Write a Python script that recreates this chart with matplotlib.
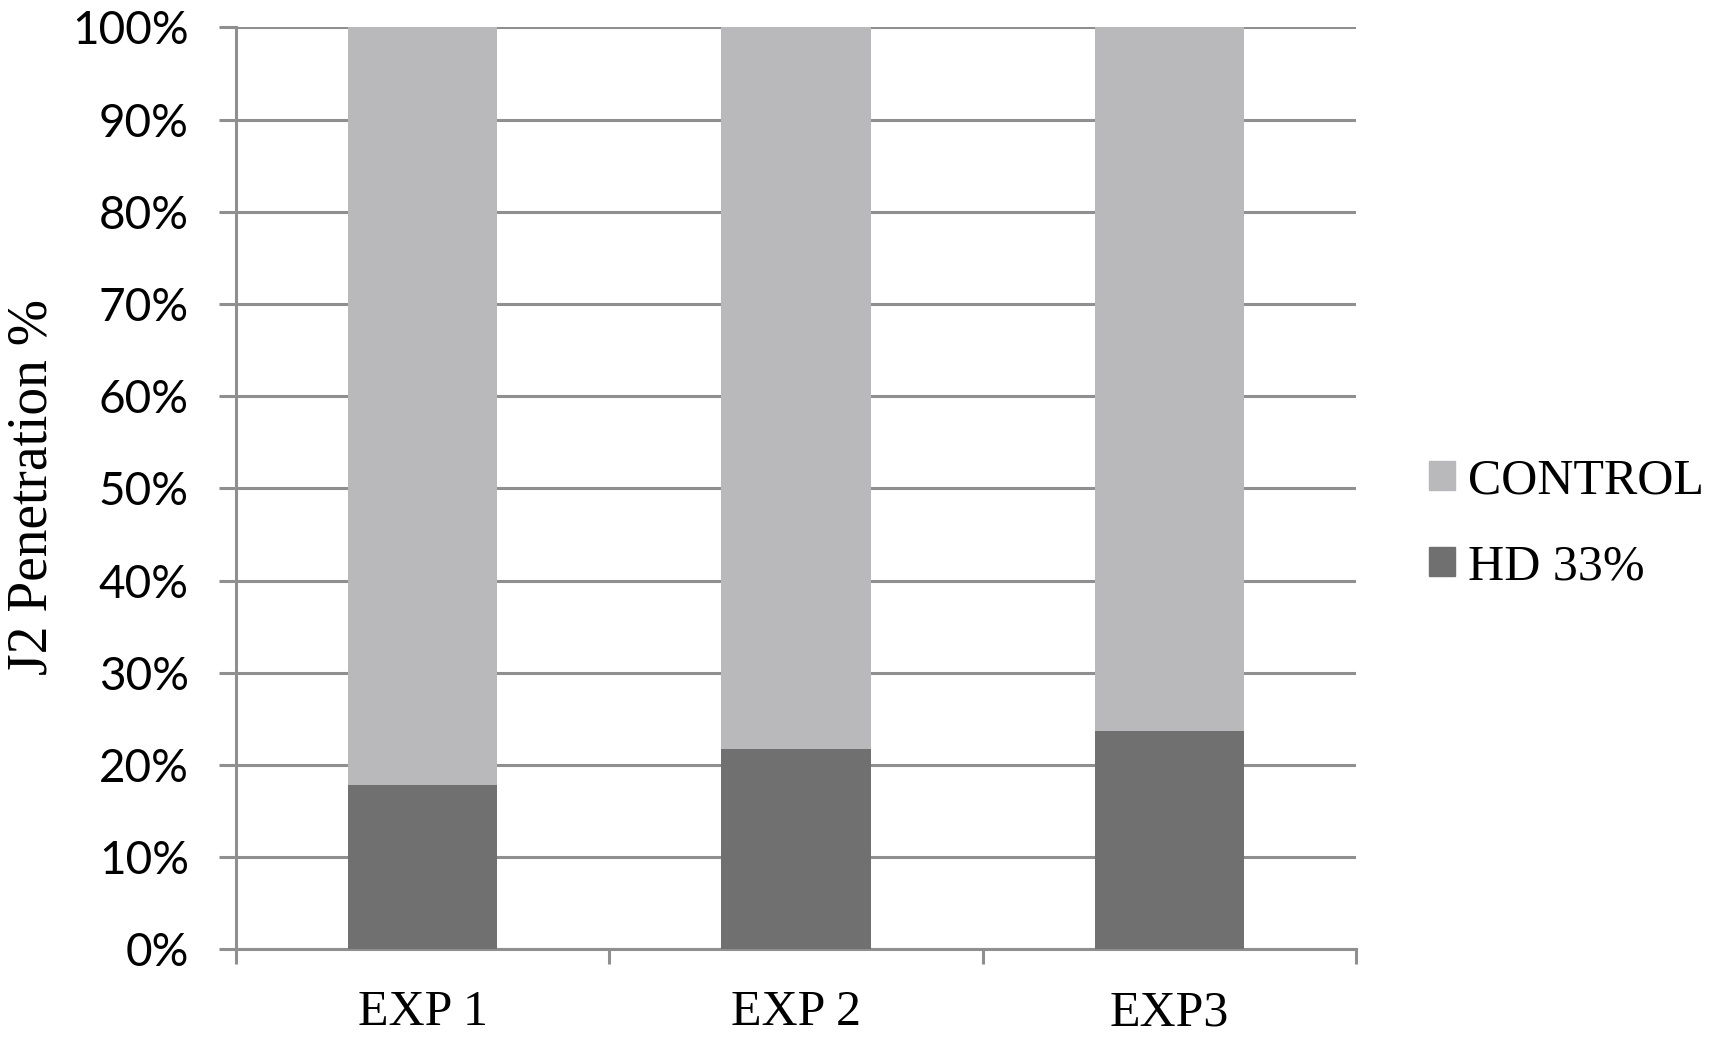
import matplotlib
matplotlib.use("Agg")
import matplotlib.pyplot as plt
from matplotlib.patches import Patch
from matplotlib.ticker import FixedLocator, PercentFormatter

categories = ["EXP 1", "EXP 2", "EXP3"]
hd33 = [17.8, 21.7, 23.7]
control = [82.2, 78.3, 76.3]
yticks = [0, 10, 20, 30, 40, 50, 60, 70, 80, 90, 100]

c_control = "#b9b9bb"
c_hd = "#707070"
c_grid = "#8f8f8f"

fig = plt.figure(figsize=(17.13, 10.42), dpi=100)
ax = fig.add_axes([0.1378, 0.0889, 0.6538, 0.8849])

x = list(range(len(categories)))
ax.bar(x, hd33, width=0.4, color=c_hd, zorder=3, label="HD 33%")
ax.bar(x, control, width=0.4, bottom=hd33, color=c_control, zorder=3, label="CONTROL")

ax.set_xlim(-0.5, 2.5)
ax.set_ylim(0, 100)
ax.set_yticks(yticks)
ax.yaxis.set_major_formatter(PercentFormatter(decimals=0))
ax.grid(axis="y", color=c_grid, linewidth=2.2, zorder=0)
ax.set_axisbelow(True)

for s in ["top", "right"]:
    ax.spines[s].set_visible(False)
for s in ["left", "bottom"]:
    ax.spines[s].set_color(c_grid)
    ax.spines[s].set_linewidth(2.2)

ax.set_xticks(x)
ax.set_xticklabels(categories, fontfamily="Liberation Serif", fontsize=36)
ax.xaxis.set_minor_locator(FixedLocator([-0.5, 0.5, 1.5, 2.5]))
ax.tick_params(axis="x", which="major", length=0, pad=29)
ax.tick_params(axis="x", which="minor", length=11, width=2.2, color=c_grid, direction="out")
ax.tick_params(axis="y", which="major", length=12, width=2.2, color=c_grid, direction="out", pad=22)
for lab in ax.get_yticklabels():
    lab.set_fontfamily("Lato")
    lab.set_fontsize(33)

fig.text(0.019, 0.533, "J2 Penetration %", rotation=90, ha="center", va="center",
         fontfamily="Liberation Serif", fontsize=40)

handles = [Patch(color=c_control), Patch(color=c_hd)]
ax.legend(handles, ["CONTROL", "HD 33%"], loc="center left",
          bbox_to_anchor=(0.8345, 0.497), bbox_transform=fig.transFigure,
          frameon=False, prop={"family": "Liberation Serif", "size": 36},
          handlelength=0.52, handleheight=0.52, handletextpad=0.25,
          labelspacing=0.8, borderpad=0, borderaxespad=0)

fig.savefig("out.png", dpi=100)
